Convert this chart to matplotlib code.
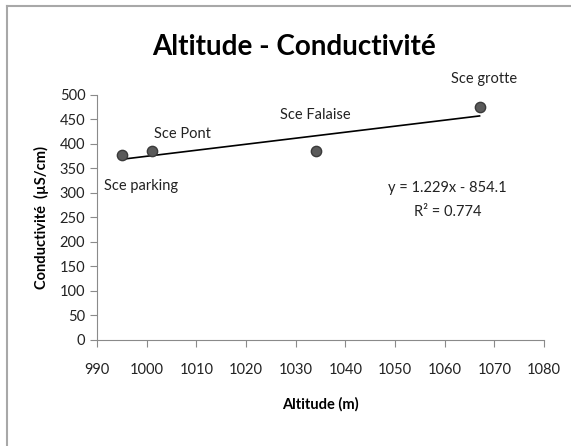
import matplotlib
matplotlib.use("Agg")
from matplotlib import pyplot as plt
from matplotlib.lines import Line2D
import numpy as np

plt.rcParams['font.family'] = ['Lato', 'DejaVu Sans']

# data
sources = ["Sce parking", "Sce Pont", "Sce Falaise", "Sce grotte"]
altitude = [995, 1001, 1034, 1067]
conductivite = [377, 386, 386, 475]
slope, intercept = 1.229, -854.1
r2 = 0.774

x_ticks = list(range(990, 1081, 10))
y_ticks = list(range(0, 501, 50))

fig = plt.figure(figsize=(5.71, 4.46), dpi=100)
# chart area border (only top and left visible in the crop)
fig.lines.append(Line2D([0.0125, 0.0125], [0.0, 0.986], transform=fig.transFigure,
                        color='#a8a8a8', linewidth=1.5))
fig.lines.append(Line2D([0.0125, 1.0], [0.986, 0.986], transform=fig.transFigure,
                        color='#a8a8a8', linewidth=1.5))
ax = fig.add_axes([0.170, 0.238, 0.783, 0.549])

xs = np.array([min(altitude), max(altitude)])
ax.plot(xs, slope * xs + intercept, color='black', linewidth=1.2, zorder=2)
ax.scatter(altitude, conductivite, s=55, color='#5a5a5a', edgecolor='#3a3a3a', linewidth=1, zorder=3)

# point labels (offsets in points)
offsets = [(14, -22), (22, 12), (0, 26), (3, 20)]
for name, x, y, off in zip(sources, altitude, conductivite, offsets):
    ax.annotate(name, (x, y), xytext=off, textcoords='offset points',
                ha='center', va='center', fontsize=10.5, color='#222222')

ax.text(1060.5, 310, f"y = {slope}x - {abs(intercept)}", ha='center', va='center', fontsize=10.5, color='#222222')
ax.text(1060.5, 262, f"R² = {r2}", ha='center', va='center', fontsize=10.5, color='#222222')

ax.set_xlim(990, 1080)
ax.set_ylim(0, 500)
ax.set_xticks(x_ticks)
ax.set_yticks(y_ticks)
for s in ['top', 'right']:
    ax.spines[s].set_visible(False)
for s in ['left', 'bottom']:
    ax.spines[s].set_color('#8a8a8a')
ax.tick_params(direction='out', length=5, color='#8a8a8a', labelsize=10.5, labelcolor='#222222')
ax.tick_params(axis='x', pad=12)

fig.text(0.515, 0.895, "Altitude - Conductivité", ha='center', va='center',
         fontsize=20, fontweight='bold', color='black')
ax.set_xlabel("Altitude (m)", fontsize=10.5, fontweight='bold', labelpad=14)
ax.set_ylabel("Conductivité  (µS/cm)", fontsize=10.5, fontweight='bold', labelpad=8)

fig.savefig("out.png", dpi=100)
